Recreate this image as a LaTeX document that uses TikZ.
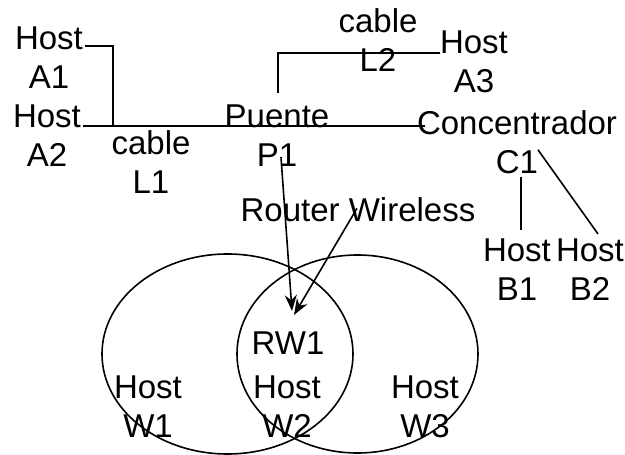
\documentclass[tikz,border=0pt]{standalone}
\usepackage{fontspec}
\setmainfont{Liberation Sans}
\usetikzlibrary{arrows.meta}

\begin{document}
\begin{tikzpicture}[x=1pt, y=-1pt,
  lbl/.style={align=center, inner sep=0pt, font=\fontsize{33}{39}\selectfont},
  wire/.style={line width=1.6pt},
  link/.style={line width=1.6pt, -{Stealth[length=16pt, width=12pt]}},
  cell/.style={line width=1.6pt}]
\useasboundingbox (0,0) rectangle (625,455);
% wireless cells
\draw[cell] (227.5,354) ellipse [x radius=125.5, y radius=100];
\draw[cell] (357.5,354) ellipse [x radius=120.5, y radius=99];
% hosts and devices
\node[lbl] (a1) at (49,58) {Host\\A1};
\node[lbl] (a2) at (47,136) {Host\\A2};
\node[lbl] (cl1) at (151,162) {cable\\L1};
\node[lbl] (pte) at (277,136) {Puente\\P1};
\node[lbl] (cl2) at (378,40) {cable\\L2};
\node[lbl] (a3) at (474,62) {Host\\A3};
\node[lbl] (conc) at (517,142) {Concentrador\\C1};
\node[lbl] (b1) at (517,270) {Host\\B1};
\node[lbl] (b2) at (590,270) {Host\\B2};
\node[lbl] (rw) at (358,210) {Router Wireless};
\node[lbl] (rw1) at (288,343) {RW1};
\node[lbl] (w1) at (148,407) {Host\\W1};
\node[lbl] (w2) at (287,407) {Host\\W2};
\node[lbl] (w3) at (425,407) {Host\\W3};
\coordinate (jA) at (113,126);
\coordinate (jB) at (278,93);
\coordinate (tip) at (292,311);
% cables
\draw[wire] ([xshift=2pt,yshift=-19pt]a1.north east) -| (jA);
\draw[wire] ([xshift=2pt]a2.east |- jA) -- ([xshift=8pt]conc.west |- jA);
\draw[wire] (jB) |- ([yshift=9pt]a3.west);
\draw[wire] ([xshift=4pt,yshift=-3pt]conc.south) -- ([xshift=4pt,yshift=9pt]b1.north);
\draw[wire] ([xshift=21pt,yshift=24pt]conc.south) -- ([xshift=8pt,yshift=5pt]b2.north);
% arrows to the router
\draw[link] ([xshift=4pt,yshift=10pt]pte.south) -- (tip);
\draw[link] ([xshift=-1pt,yshift=14pt]rw.south) -- ([xshift=2pt,yshift=-4pt]tip);
\end{tikzpicture}
\end{document}
